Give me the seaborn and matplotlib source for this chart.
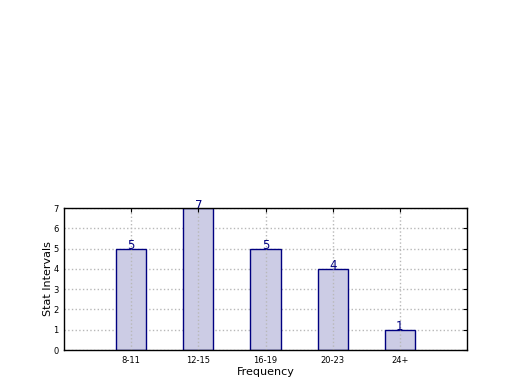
import matplotlib
matplotlib.use("Agg")
import matplotlib.pyplot as plt
import seaborn as sns
import pandas as pd

categories = ["8-11", "12-15", "16-19", "20-23", "24+"]
counts = [5, 7, 5, 4, 1]

sns.set_style("white")
plt.rcParams['font.family'] = ['DejaVu Sans']
plt.rcParams['text.color'] = 'black'
plt.rcParams['axes.labelcolor'] = 'black'
plt.rcParams['xtick.color'] = 'black'
plt.rcParams['ytick.color'] = 'black'

df = pd.DataFrame({"cat": categories, "count": counts})

fig = plt.figure(figsize=(5.2, 3.9), dpi=100)
ax = fig.add_axes([64/520, 40/390, (467-64)/520, (350-208)/390])
sns.barplot(data=df, x="cat", y="count", order=categories, ax=ax,
            color=(0.8, 0.8, 0.9), edgecolor="navy", linewidth=1.0,
            width=0.45, saturation=1)
for p in ax.patches:
    p.set_facecolor((0.8, 0.8, 0.898))
    p.set_edgecolor("navy")
ax.set_xlim(-1, 5)
ax.set_ylim(0, 7)
ax.set_yticks(range(0, 8))
ax.grid(True, linestyle=":", color="#b8b8b8", linewidth=1.0)
ax.set_axisbelow(True)
ax.xaxis.set_zorder(2.5)
ax.yaxis.set_zorder(0.5)
for i, v in enumerate(counts):
    ax.text(i, v - 0.03, str(v), ha="center", va="baseline", color="navy", fontsize=8.5, zorder=5)
for s in ax.spines.values():
    s.set_color("black")
    s.set_linewidth(1.0)
    s.set_zorder(10)
ax.tick_params(axis="both", direction="in", length=3, labelsize=6, top=True, right=True, pad=4)
ax.set_xlabel("Frequency", fontsize=8, labelpad=2)
ax.set_ylabel("Stat Intervals", fontsize=8, labelpad=0)
fig.savefig("out.png", dpi=100)
